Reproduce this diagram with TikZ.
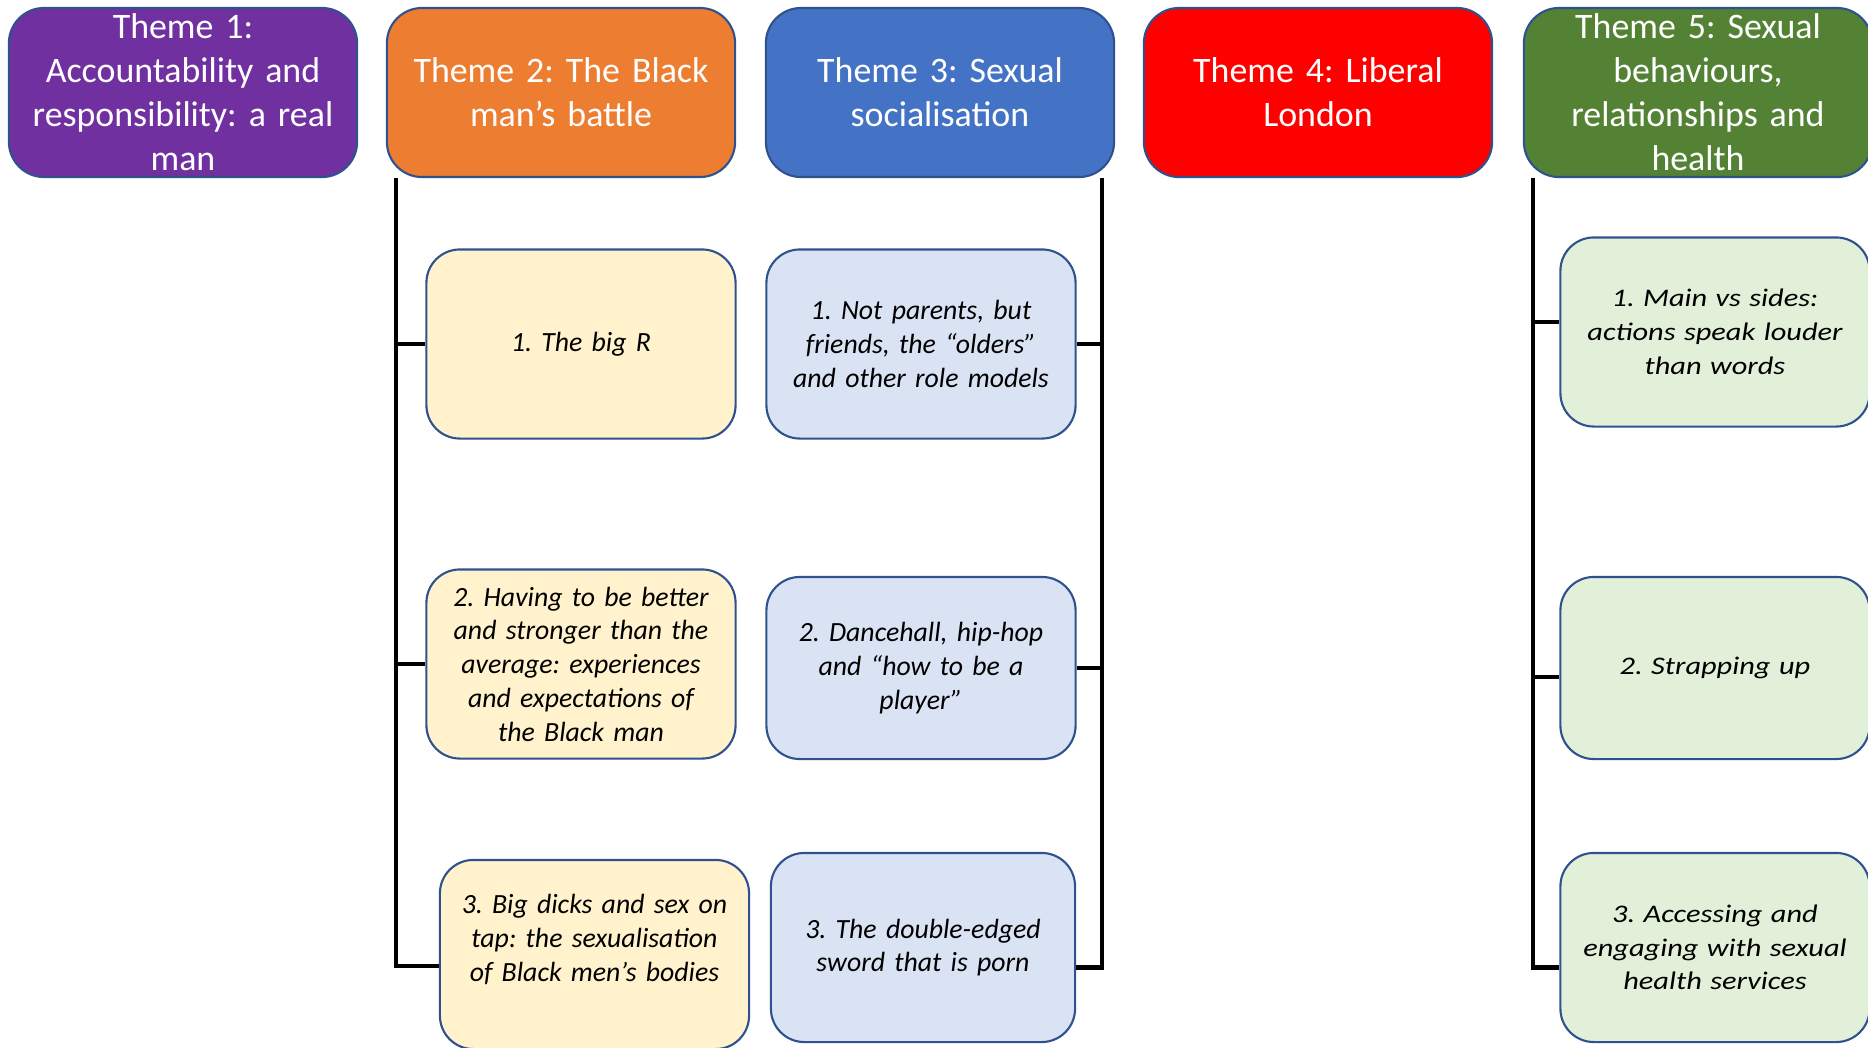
\documentclass[tikz,border=0pt]{standalone}
\usepackage{fontspec}
\setmainfont{Carlito}
\newfontfamily\widefont[FakeStretch=1.2]{Carlito}
\usepackage{tikz}
\usetikzlibrary{positioning}
\usepackage{xcolor}
\definecolor{themepurple}{RGB}{112, 48, 160}
\definecolor{themeorange}{RGB}{237, 125, 49}
\definecolor{themeblue}{RGB}{68, 114, 196}
\definecolor{themered}{RGB}{255, 0, 0}
\definecolor{themegreen}{RGB}{84, 130, 53}
\definecolor{edgeblue}{RGB}{47, 82, 143}
\definecolor{subyellow}{RGB}{255, 242, 204}
\definecolor{subblue}{RGB}{218, 227, 243}
\definecolor{subgreen}{RGB}{226, 240, 217}
\frenchspacing

\begin{document}
\begin{tikzpicture}[
    x=0.01cm, y=-0.01cm,
    theme/.style={rectangle, draw=edgeblue, rounded corners=10pt, minimum width=3.48cm, minimum height=1.69cm, text width=3.3cm, align=center, inner sep=0pt, text=white, font=\fontsize{10.2pt}{12.5pt}\selectfont, line width=0.6pt},
    sub/.style={rectangle, draw=edgeblue, rounded corners=9.5pt, minimum width=3.09cm, minimum height=1.89cm, text width=2.95cm, align=center, inner sep=0pt, font=\fontsize{7.9pt}{9.6pt}\selectfont\itshape, line width=0.6pt},
    subwide/.style={sub, fill=subgreen, font=\widefont\fontsize{7.2pt}{9.6pt}\selectfont\itshape},
    branch/.style={line width=1.2pt, draw=black}
]
    \useasboundingbox (0,0) rectangle (1868,1048);

    \node[theme, fill=themepurple] (t1) at (183,92.5) {Theme 1:\\Accountability and\\responsibility: a real\\man};
    \node[theme, fill=themeorange] (t2) at (561,92.5) {Theme 2: The Black\\man’s battle};
    \node[theme, fill=themeblue] (t3) at (940,92.5) {Theme 3: Sexual\\socialisation};
    \node[theme, fill=themered] (t4) at (1318,92.5) {Theme 4: Liberal\\London};
    \node[theme, fill=themegreen] (t5) at (1698,92.5) {Theme 5: Sexual\\behaviours,\\relationships and\\health};

    \node[sub, fill=subyellow] (s21) at (581,344) {1. The big R};
    \node[sub, fill=subyellow] (s22) at (581,664) {2. Having to be better\\and stronger than the\\average: experiences\\and expectations of\\the Black man};
    \node[sub, fill=subyellow] (s23) at (594.5,954.5) {3. Big dicks and sex on\\tap: the sexualisation\\of Black men’s bodies\\ \mbox{}};

    \node[sub, fill=subblue] (s31) at (921,344) {1. Not parents, but\\friends, the “olders”\\and other role models};
    \node[sub, fill=subblue, minimum height=1.82cm] (s32) at (921,668) {2. Dancehall, hip-hop\\and “how to be a\\player”};
    \node[sub, fill=subblue, minimum width=3.04cm] (s33) at (923,947.5) {3. The double-edged\\sword that is porn};

    \node[subwide] (s51) at (1715,332) {1. Main vs sides:\\actions speak louder\\than words};
    \node[subwide, minimum height=1.82cm] (s52) at (1715,668) {2. Strapping up};
    \node[subwide] (s53) at (1715,947.5) {3. Accessing and\\engaging with sexual\\health services};

    \draw[branch] ([xshift=0.1cm]t2.south west) |- (s21.west);
    \draw[branch] ([xshift=0.1cm]t2.south west) |- (s22.west);
    \draw[branch] ([xshift=0.1cm]t2.south west) |- ([yshift=-0.115cm]s23.west);

    \draw[branch] ([xshift=-0.13cm]t3.south east) |- (s31.east);
    \draw[branch] ([xshift=-0.13cm]t3.south east) |- (s32.east);
    \draw[branch] ([xshift=-0.13cm]t3.south east) |- ([yshift=-0.2cm]s33.east);

    \draw[branch] ([xshift=0.1cm]t5.south west) |- ([yshift=0.1cm]s51.west);
    \draw[branch] ([xshift=0.1cm]t5.south west) |- ([yshift=-0.09cm]s52.west);
    \draw[branch] ([xshift=0.1cm]t5.south west) |- ([yshift=-0.2cm]s53.west);
\end{tikzpicture}
\end{document}
